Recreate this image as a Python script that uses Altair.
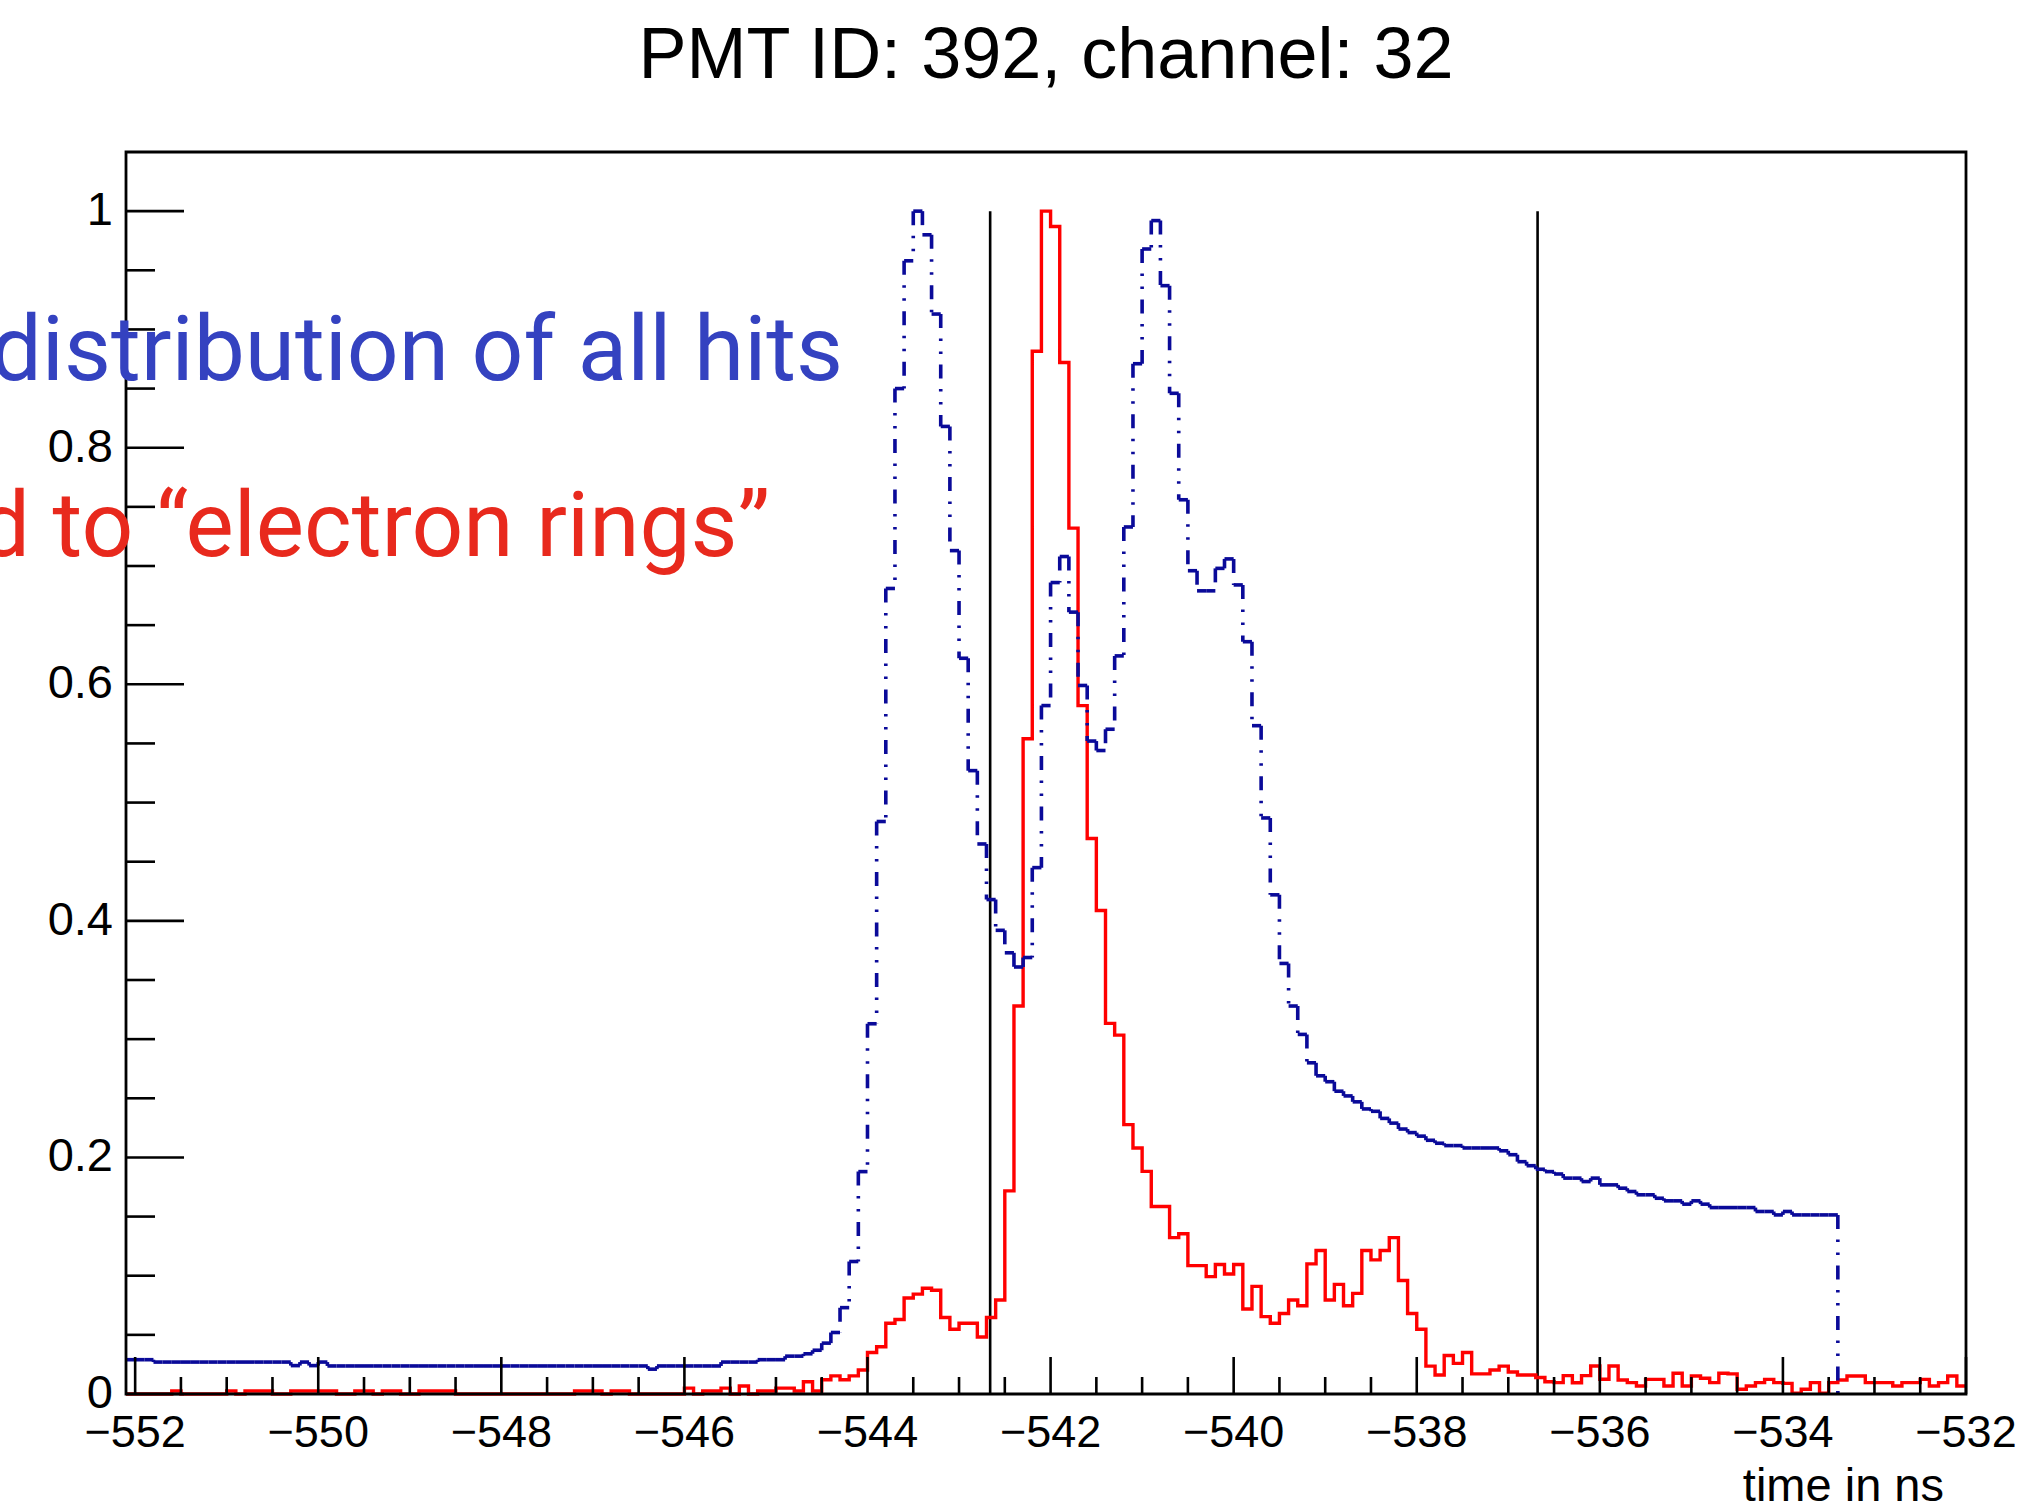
import altair as alt
import pandas as pd

# ---------------- data ----------------
X_MIN = -552.1
X_MAX = -532.0
BIN_WIDTH = 0.1
Y_MAX = 1.05

# "all hits" histogram (bins of 0.1 ns starting at -552.1, ends at -533.4)
blue_values = [
    0.029, 0.029, 0.029, 0.027, 0.027, 0.027, 0.027, 0.027, 0.027, 0.027,
    0.027, 0.027, 0.027, 0.027, 0.027, 0.027, 0.027, 0.027, 0.024, 0.027,
    0.024, 0.027, 0.0237, 0.0237, 0.0237, 0.0237, 0.0237, 0.0237, 0.0237, 0.0237,
    0.0237, 0.0237, 0.0237, 0.0237, 0.0237, 0.0237, 0.0237, 0.0237, 0.0237, 0.0237,
    0.0237, 0.0237, 0.0237, 0.0237, 0.0237, 0.0237, 0.0237, 0.0237, 0.0237, 0.0237,
    0.0237, 0.0237, 0.0237, 0.0237, 0.0237, 0.0237, 0.0237, 0.021, 0.0237, 0.0237,
    0.0237, 0.0237, 0.0237, 0.0237, 0.0237, 0.027, 0.027, 0.027, 0.027, 0.029,
    0.029, 0.029, 0.032, 0.032,
    0.034, 0.037, 0.043, 0.052, 0.073, 0.112, 0.188, 0.313, 0.484, 0.681,
    0.850, 0.958, 1.000, 0.980, 0.913, 0.818, 0.713, 0.622, 0.527, 0.465,
    0.418, 0.392, 0.373, 0.361, 0.369, 0.445, 0.582, 0.686, 0.708, 0.661,
    0.599, 0.552, 0.544, 0.562, 0.624, 0.733, 0.871, 0.968, 0.992, 0.937,
    0.846, 0.756, 0.696, 0.679, 0.679, 0.698, 0.706, 0.684, 0.636, 0.565,
    0.487, 0.422, 0.364, 0.328, 0.304, 0.280, 0.269, 0.264, 0.256, 0.252,
    0.247, 0.241, 0.239, 0.233, 0.229, 0.224, 0.221, 0.218, 0.2145, 0.212,
    0.210, 0.210, 0.208, 0.208, 0.208, 0.208, 0.2056, 0.2023, 0.1964, 0.193,
    0.190, 0.188, 0.186, 0.1825, 0.1825, 0.1796, 0.1825, 0.1768, 0.1768, 0.174,
    0.1712, 0.1684, 0.1684, 0.1655, 0.1633, 0.1633, 0.1605, 0.1633, 0.1605, 0.1576,
    0.1576, 0.1576, 0.1576, 0.1576, 0.1543, 0.1543, 0.1514, 0.1543, 0.1514, 0.1514,
    0.1514, 0.1514, 0.1514,
]

# "electron rings" histogram (bins of 0.1 ns from -552.1 to -532.0)
red_values = [
    0, 0, 0, 0, 0, 0.0025, 0, 0, 0, 0,
    0, 0.0025, 0, 0.0025, 0.0025, 0.0025, 0, 0, 0.0025, 0.0025,
    0.0025, 0.0025, 0.0025, 0, 0, 0.0025, 0.0025, 0, 0.0025, 0.0025,
    0, 0, 0.0025, 0.0025, 0.0025, 0.0025, 0, 0, 0, 0,
    0, 0, 0, 0, 0, 0, 0, 0, 0, 0.0025,
    0.0025, 0.0025, 0, 0.0025, 0.0025, 0, 0, 0, 0, 0,
    0, 0.005, 0, 0.0025, 0.0025, 0.005, 0, 0.0068, 0, 0.0025,
    0.0025, 0.005, 0.005, 0.0025, 0.0104, 0.0025, 0.012, 0.0153, 0.012, 0.0153,
    0.0203, 0.0351, 0.040, 0.0598, 0.063, 0.0812, 0.0844, 0.0894, 0.0877, 0.0647,
    0.0548, 0.0598, 0.0598, 0.0482, 0.0647, 0.0795, 0.1717, 0.328, 0.554, 0.8815,
    1.0, 0.987, 0.872, 0.732, 0.582, 0.4696, 0.4087, 0.3133, 0.3034, 0.2277,
    0.208, 0.1882, 0.1585, 0.1585, 0.1322, 0.1355, 0.1085, 0.1085, 0.0992, 0.1095,
    0.1015, 0.1095, 0.0719, 0.091, 0.0654, 0.0598, 0.068, 0.0795, 0.0746, 0.110,
    0.1213, 0.0795, 0.0927, 0.0746, 0.0851, 0.1213, 0.1134, 0.1213, 0.1322, 0.096,
    0.068, 0.0548, 0.0236, 0.016, 0.0325, 0.0259, 0.0351, 0.017, 0.017, 0.0203,
    0.0236, 0.0186, 0.016, 0.016, 0.014, 0.0104, 0.0096, 0.0155, 0.0095, 0.0155,
    0.0237, 0.0125, 0.0237, 0.0118, 0.0096, 0.0068, 0.0124, 0.0124, 0.0068, 0.0175,
    0.0068, 0.0152, 0.0133, 0.0096, 0.0175, 0.0170, 0.004, 0.0068, 0.0096, 0.0124,
    0.0096, 0.009, 0.0006, 0.004, 0.0096, 0.0006, 0.0096, 0.0118, 0.0152, 0.0152,
    0.0096, 0.0096, 0.0096, 0.0068, 0.0096, 0.0096, 0.0124, 0.0068, 0.0096, 0.0152,
    0.0068,
]

cut_times = [-542.66, -536.68]
cut_top = 1.0

x_major_ticks = [-552, -550, -548, -546, -544, -542, -540, -538, -536, -534, -532]
x_tick_labels = ["\u2212552", "\u2212550", "\u2212548", "\u2212546", "\u2212544", "\u2212542",
                 "\u2212540", "\u2212538", "\u2212536", "\u2212534", "\u2212532"]
y_major_ticks = [0.0, 0.2, 0.4, 0.6, 0.8, 1.0]
y_tick_labels = ["0", "0.2", "0.4", "0.6", "0.8", "1"]
x_minor_ticks = [t + d for t in x_major_ticks[:-1] for d in (0.5, 1.0, 1.5)]
y_minor_ticks = [round(t + d, 2) for t in y_major_ticks for d in (0.05, 0.1, 0.15)
                 if t + d < Y_MAX - 1e-9]

title_text = "PMT ID: 392, channel: 32"
x_title = "time in ns"
blue_note = "Time distribution of all hits"
red_note = "Hits assigned to \u201celectron rings\u201d"

# ---------------- layout / style ----------------
W, H = 1840, 1242
BLUE = "#0a0a99"
RED = "#ff0000"
DASH = [14, 10.5, 2.5, 10.5, 2.5, 10.5]
FONT = "Liberation Sans"

xs = alt.Scale(domain=[X_MIN, X_MAX], nice=False, zero=False)
ys = alt.Scale(domain=[0, Y_MAX], nice=False, zero=False)


def edge(i):
    return round(X_MIN + BIN_WIDTH * i, 2)


blue_h_df = pd.DataFrame({
    "t0": [edge(i) for i in range(len(blue_values))],
    "t1": [edge(i + 1) for i in range(len(blue_values))],
    "v": blue_values,
})
rows = []
for i in range(1, len(blue_values) + 1):
    prev = blue_values[i - 1]
    cur = blue_values[i] if i < len(blue_values) else 0.0
    if prev != cur:
        rows.append({"t": edge(i), "top": max(prev, cur), "bot": min(prev, cur)})
blue_v_df = pd.DataFrame(rows)

red_df = pd.DataFrame({
    "t": [edge(i) for i in range(len(red_values))] + [X_MAX],
    "v": red_values + [red_values[-1]],
})
cut_df = pd.DataFrame({"t": cut_times, "lo": [0.0] * len(cut_times), "hi": [cut_top] * len(cut_times)})

X = lambda f: alt.X(f, type="quantitative", scale=xs, axis=None)
Y = lambda f: alt.Y(f, type="quantitative", scale=ys, axis=None)

cut_layer = alt.Chart(cut_df).mark_rule(color="black", strokeWidth=2.6).encode(
    x=X("t"), y=Y("lo"), y2="hi")

red_layer = alt.Chart(red_df).mark_line(
    color=RED, strokeWidth=3.4, interpolate="step-after", strokeJoin="miter"
).encode(x=X("t"), y=Y("v"))

blue_h_layer = alt.Chart(blue_h_df).mark_rule(
    color=BLUE, strokeWidth=3.6, strokeDash=DASH, strokeCap="butt"
).encode(x=X("t0"), x2="t1", y=Y("v"))

blue_v_layer = alt.Chart(blue_v_df).mark_rule(
    color=BLUE, strokeWidth=3.6, strokeDash=DASH, strokeCap="butt"
).encode(x=X("t"), y=Y("top"), y2="bot")

frame_layer = alt.Chart(pd.DataFrame({"k": [0]})).mark_rect(
    fillOpacity=0, stroke="black", strokeWidth=2.8
).encode(x=alt.value(0), x2=alt.value(W), y=alt.value(0), y2=alt.value(H))

xmaj_layer = alt.Chart(pd.DataFrame({"t": x_major_ticks})).mark_rule(
    color="black", strokeWidth=2.6).encode(x=X("t"), y=alt.value(H), y2=alt.value(H - 37))
xmin_layer = alt.Chart(pd.DataFrame({"t": x_minor_ticks})).mark_rule(
    color="black", strokeWidth=2.6).encode(x=X("t"), y=alt.value(H), y2=alt.value(H - 17))
ymaj_layer = alt.Chart(pd.DataFrame({"v": y_major_ticks})).mark_rule(
    color="black", strokeWidth=2.6).encode(y=Y("v"), x=alt.value(0), x2=alt.value(58))
ymin_layer = alt.Chart(pd.DataFrame({"v": y_minor_ticks})).mark_rule(
    color="black", strokeWidth=2.6).encode(y=Y("v"), x=alt.value(0), x2=alt.value(29))

xlab_layer = alt.Chart(pd.DataFrame({"t": x_major_ticks, "label": x_tick_labels})).mark_text(
    font=FONT, fontSize=45, baseline="alphabetic", align="center", color="black"
).encode(x=X("t"), y=alt.value(H + 53), text="label:N")

ylab_layer = alt.Chart(pd.DataFrame({"v": y_major_ticks, "label": y_tick_labels})).mark_text(
    font=FONT, fontSize=47, baseline="middle", align="right", color="black"
).encode(y=Y("v"), x=alt.value(-13), text="label:N")

xtitle_layer = alt.Chart(pd.DataFrame({"label": [x_title]})).mark_text(
    font=FONT, fontSize=47, baseline="alphabetic", align="right", color="black"
).encode(x=alt.value(W - 22), y=alt.value(1349), text="label:N")

blue_note_layer = alt.Chart(pd.DataFrame({"label": [blue_note]})).mark_text(
    font="Roboto", fontSize=91, baseline="alphabetic", align="right", color="#3442c0"
).encode(x=alt.value(717), y=alt.value(228), text="label:N")

red_note_layer = alt.Chart(pd.DataFrame({"label": [red_note]})).mark_text(
    font="Roboto", fontSize=91, baseline="alphabetic", align="right", color="#e8291d"
).encode(x=alt.value(644), y=alt.value(404), text="label:N")

chart = alt.layer(
    cut_layer, red_layer, blue_h_layer, blue_v_layer,
    frame_layer, xmaj_layer, xmin_layer, ymaj_layer, ymin_layer,
    xlab_layer, ylab_layer, xtitle_layer, blue_note_layer, red_note_layer,
).properties(
    width=W,
    height=H,
    padding={"left": 126, "top": 152, "right": 53, "bottom": 112},
    autosize=alt.AutoSizeParams(type="none"),
    title=alt.Title(title_text, font=FONT, fontSize=72, fontWeight="normal",
                    anchor="middle", frame="group", baseline="alphabetic",
                    offset=1, color="black"),
    background="white",
).configure_view(strokeWidth=0)

chart.save("out.html", embed_options={"renderer": "svg", "actions": False})
